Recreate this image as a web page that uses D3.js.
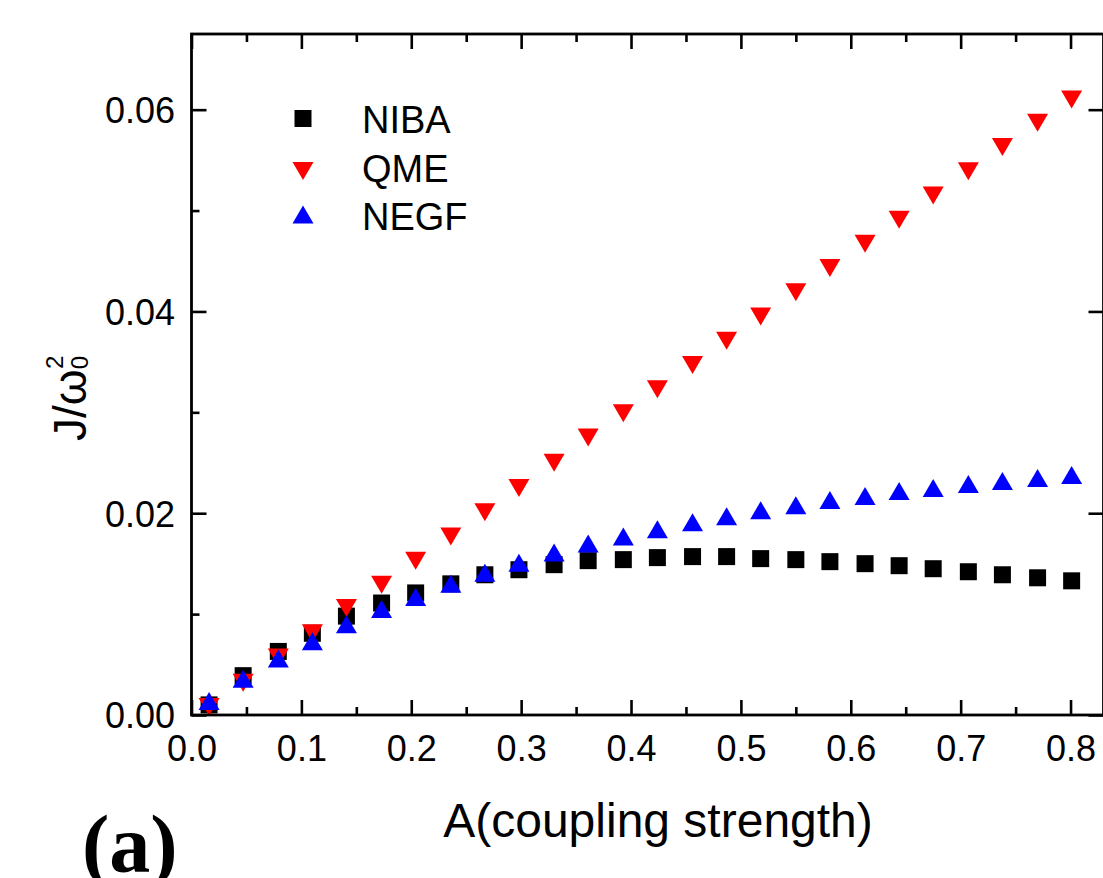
<!DOCTYPE html>
<html>
<head>
<meta charset="utf-8">
<script src="https://cdn.jsdelivr.net/npm/d3@7"></script>
<style>
  body { margin: 0; background: #fff; }
  svg { display: block; font-family: "Liberation Sans", Arial, sans-serif; }
</style>
</head>
<body>
<svg id="chart" width="1103" height="878"></svg>
<script>
// coupling strength A (x values)
var coupling = [0.016, 0.047, 0.079, 0.110, 0.141, 0.173, 0.204, 0.236, 0.267, 0.298,
  0.330, 0.361, 0.393, 0.424, 0.456, 0.487, 0.518, 0.550, 0.581, 0.613,
  0.644, 0.675, 0.707, 0.738, 0.770, 0.801];

// J / w0^2 for each method
var niba = [0.0010, 0.0039, 0.0063, 0.0081, 0.0098, 0.0111, 0.0121, 0.0130, 0.0139, 0.0144,
  0.0149, 0.0153, 0.0154, 0.0156, 0.0157, 0.0157, 0.0155, 0.0154, 0.0152, 0.0150,
  0.0148, 0.0145, 0.0142, 0.0139, 0.0136, 0.0133];
var qme = [0.0008, 0.0032, 0.0057, 0.0081, 0.0106, 0.0129, 0.0153, 0.0177, 0.0201, 0.0225,
  0.0250, 0.0275, 0.0299, 0.0323, 0.0347, 0.0371, 0.0395, 0.0419, 0.0443, 0.0467,
  0.0491, 0.0515, 0.0539, 0.0563, 0.0587, 0.0610];
var negf = [0.0014, 0.0036, 0.0056, 0.0073, 0.0090, 0.0105, 0.0117, 0.0130, 0.0141, 0.0151,
  0.0161, 0.0170, 0.0177, 0.0184, 0.0191, 0.0197, 0.0203, 0.0208, 0.0213, 0.0217,
  0.0222, 0.0225, 0.0229, 0.0232, 0.0235, 0.0238];

var seriesNames = ["NIBA", "QME", "NEGF"];
var xTicks = [0.0, 0.1, 0.2, 0.3, 0.4, 0.5, 0.6, 0.7, 0.8];
var xMinorTicks = [0.05, 0.15, 0.25, 0.35, 0.45, 0.55, 0.65, 0.75];
var yTicks = [0.00, 0.02, 0.04, 0.06];
var yMinorTicks = [0.01, 0.03, 0.05];

var margin = { top: 34, left: 191.5 };
var width = 912;   // right part runs past the window, as in the figure
var height = 681;

var svg = d3.select("#chart");
var g = svg.append("g")
  .attr("transform", "translate(" + margin.left + "," + margin.top + ")");

var x = d3.scaleLinear().domain([0, 0.83]).range([0, width]);
var y = d3.scaleLinear().domain([0, 0.0675]).range([height, 0]);

var series = [
  { name: seriesNames[0], values: niba, color: "#000000", shape: "square" },
  { name: seriesNames[1], values: qme, color: "#ff0000", shape: "down" },
  { name: seriesNames[2], values: negf, color: "#0000ff", shape: "up" }
];

function markerPath(shape) {
  if (shape === "square") return "M-8.5,-8.5H8.5V8.5H-8.5Z";
  if (shape === "down") return "M0,9L10.5,-9L-10.5,-9Z";
  return "M0,-9L10.5,9L-10.5,9Z";
}

// markers
series.forEach(function(s) {
  g.append("g")
    .selectAll("path")
    .data(s.values)
    .enter()
    .append("path")
    .attr("d", markerPath(s.shape))
    .attr("transform", function(d, i) { return "translate(" + x(coupling[i]) + "," + y(d) + ")"; })
    .attr("fill", s.color);
});

// axes
function styleAxis(sel) {
  sel.select(".domain").remove();
  sel.selectAll("line").attr("stroke", "#000").attr("stroke-width", 2.6);
  sel.selectAll("text")
    .attr("fill", "#000")
    .style("font-family", "Liberation Sans, Arial, sans-serif")
    .style("font-size", "36px");
}

var bottom = g.append("g").attr("transform", "translate(0," + height + ")")
  .call(d3.axisBottom(x).tickValues(xTicks).tickSizeInner(-15).tickSizeOuter(0)
    .tickPadding(20).tickFormat(d3.format(".1f")));
styleAxis(bottom);

g.append("g").attr("transform", "translate(0," + height + ")")
  .call(d3.axisBottom(x).tickValues(xMinorTicks).tickSize(-8).tickFormat(""))
  .call(styleAxis);

g.append("g")
  .call(d3.axisTop(x).tickValues(xTicks).tickSize(-15).tickFormat(""))
  .call(styleAxis);
g.append("g")
  .call(d3.axisTop(x).tickValues(xMinorTicks).tickSize(-8).tickFormat(""))
  .call(styleAxis);

var left = g.append("g")
  .call(d3.axisLeft(y).tickValues(yTicks).tickSizeInner(-15).tickSizeOuter(0)
    .tickPadding(16.5).tickFormat(d3.format(".2f")));
styleAxis(left);
left.selectAll("text").attr("dy", "0.36em");

g.append("g")
  .call(d3.axisLeft(y).tickValues(yMinorTicks).tickSize(-8).tickFormat(""))
  .call(styleAxis);

g.append("g").attr("transform", "translate(" + width + ",0)")
  .call(d3.axisRight(y).tickValues(yTicks).tickSize(-15).tickFormat(""))
  .call(styleAxis);

// frame
g.append("rect")
  .attr("x", 0).attr("y", 0)
  .attr("width", width).attr("height", height)
  .attr("fill", "none")
  .attr("stroke", "#000")
  .attr("stroke-width", 2.8);

// legend
var legendY = [118.5, 171, 214.5];
var legendBase = [133, 182, 230];
series.forEach(function(s, i) {
  svg.append("path")
    .attr("d", markerPath(s.shape))
    .attr("transform", "translate(303," + legendY[i] + ")")
    .attr("fill", s.color);
  svg.append("text")
    .attr("x", 362)
    .attr("y", legendBase[i])
    .style("font-size", "38px")
    .attr("fill", "#000")
    .text(s.name);
});

// x axis title
svg.append("text")
  .attr("x", 658)
  .attr("y", 837)
  .attr("text-anchor", "middle")
  .style("font-size", "48px")
  .text("A(coupling strength)");

// y axis title: J/w0^2
var ylab = svg.append("text")
  .attr("transform", "translate(86,441) rotate(-90)")
  .style("font-size", "46px");
ylab.append("tspan").text("J/\u03c9");
ylab.append("tspan").attr("dy", 2).style("font-size", "24px").text("0");
ylab.append("tspan").attr("dx", -13).attr("dy", -25).style("font-size", "24px").text("2");

// panel tag
svg.append("text")
  .attr("x", 82)
  .attr("y", 872)
  .style("font-family", "Liberation Serif, Times New Roman, serif")
  .style("font-weight", "bold")
  .style("font-size", "82px")
  .text("(a)");
</script>
</body>
</html>
